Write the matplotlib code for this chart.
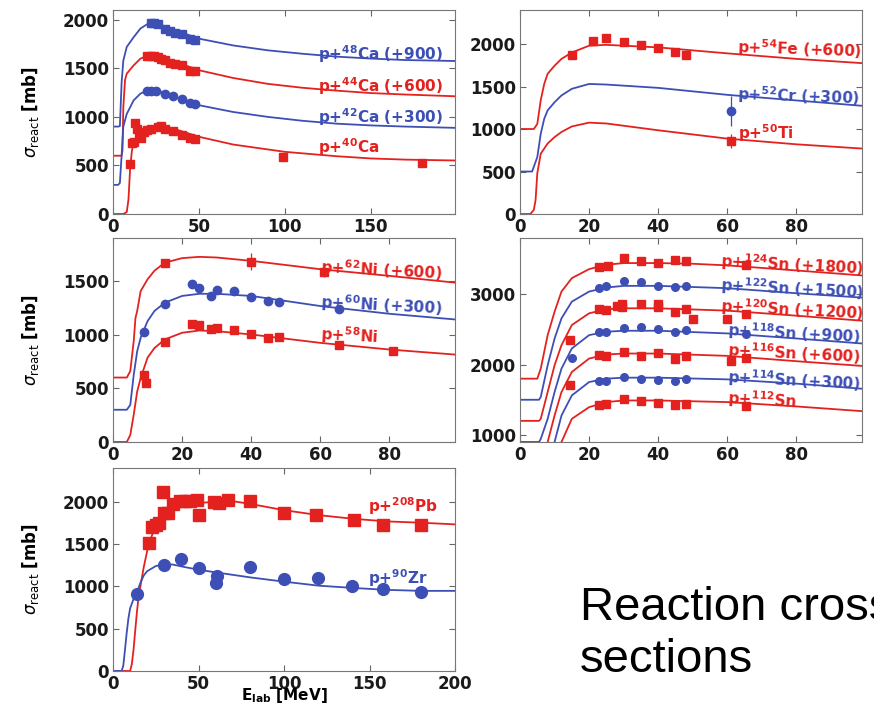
import matplotlib
matplotlib.use("Agg")
import matplotlib.pyplot as plt

RED = "#e3221f"
BLUE = "#3d4fb5"

# ---------------- Panel 1: Ca isotopes ----------------
ca48_E = [0, 3, 4, 5, 6, 8, 12, 16, 20, 25, 35, 50, 70, 90, 110, 130, 150, 170, 199]
ca48_s = [900, 900, 905, 1350, 1580, 1720, 1820, 1910, 1955, 1965, 1900, 1805, 1735, 1685, 1650, 1620, 1600, 1585, 1575]
ca44_E = [0, 5, 5.5, 6, 7, 8, 12, 16, 20, 25, 35, 50, 70, 90, 110, 130, 150, 170, 199]
ca44_s = [600, 600, 650, 1100, 1380, 1445, 1530, 1600, 1630, 1632, 1575, 1480, 1400, 1340, 1300, 1270, 1245, 1230, 1212]
ca42_E = [0, 3, 4, 5, 6, 8, 12, 16, 20, 25, 35, 50, 70, 90, 110, 130, 150, 170, 199]
ca42_s = [300, 300, 320, 600, 900, 1030, 1170, 1240, 1272, 1278, 1215, 1120, 1050, 1000, 960, 930, 912, 900, 887]
ca40_E = [0, 6, 8, 9, 10, 11, 12, 15, 20, 25, 28, 35, 50, 70, 100, 130, 150, 170, 199]
ca40_s = [0, 0, 20, 150, 480, 650, 750, 830, 875, 900, 910, 880, 795, 715, 640, 595, 572, 560, 551]

ca48_dE = [22, 24, 26, 30, 33, 36, 40, 45, 48]
ca48_ds = [1965, 1965, 1960, 1900, 1880, 1865, 1850, 1805, 1790]
ca44_dE = [20, 22, 24, 26, 28, 30, 33, 36, 40, 45, 48]
ca44_ds = [1625, 1625, 1625, 1620, 1600, 1590, 1555, 1545, 1530, 1475, 1475]
ca42_dE = [20, 22, 25, 30, 35, 40, 45, 48]
ca42_ds = [1265, 1268, 1265, 1235, 1215, 1185, 1140, 1130]
ca40_dE = [10, 11, 12.5, 13, 14, 15, 16, 18, 20, 22, 26, 28, 30, 35, 40, 45, 48, 99, 180]
ca40_ds = [510, 735, 740, 940, 870, 830, 780, 840, 860, 870, 900, 910, 880, 850, 810, 780, 770, 590, 530]

# ---------------- Panel 2: Fe, Cr, Ti ----------------
fe54_E = [0, 4, 5, 6, 7, 8, 10, 12, 15, 20, 25, 40, 60, 80, 99]
fe54_s = [1000, 1000, 1060, 1340, 1530, 1650, 1745, 1825, 1900, 1980, 1990, 1960, 1890, 1825, 1775]
cr52_E = [0, 3.5, 5, 6, 7, 8, 10, 12, 15, 20, 25, 40, 60, 80, 99]
cr52_s = [500, 500, 670, 945, 1120, 1220, 1315, 1395, 1473, 1530, 1523, 1484, 1402, 1336, 1273]
ti50_E = [0, 3, 4, 4.5, 5, 6, 8, 10, 12, 15, 20, 25, 40, 60, 80, 99]
ti50_s = [0, 0, 50, 165, 480, 710, 830, 905, 965, 1030, 1075, 1065, 985, 887, 820, 770]

fe54_dE = [15, 21, 25, 30, 35, 40, 45, 48]
fe54_ds = [1865, 2040, 2075, 2020, 1990, 1955, 1910, 1875]
cr52_dE = [61]
cr52_ds = [1210]
ti50_dE = [61]
ti50_ds = [860]

# ---------------- Panel 3: Ni isotopes ----------------
ni62_E = [0, 4, 5, 6, 6.5, 7, 8, 10, 12, 15, 20, 25, 30, 40, 60, 80, 99]
ni62_s = [600, 600, 660, 940, 1155, 1220, 1405, 1515, 1595, 1670, 1712, 1724, 1718, 1687, 1609, 1547, 1484]
ni60_E = [0, 4, 5, 6, 7, 8, 10, 12, 15, 20, 25, 30, 40, 60, 80, 99]
ni60_s = [300, 300, 345, 625, 845, 970, 1125, 1220, 1297, 1360, 1380, 1380, 1360, 1266, 1194, 1141]
ni58_E = [0, 4, 5, 6, 7, 8, 10, 12, 15, 20, 25, 30, 40, 60, 80, 99]
ni58_s = [0, 0, 65, 255, 470, 595, 785, 875, 955, 1017, 1038, 1032, 1001, 923, 861, 814]

ni62_dE = [15, 40, 61]
ni62_ds = [1670, 1680, 1587]
ni60_dE = [9, 15, 23, 25, 28.5, 30, 35, 40, 45, 48, 65.5]
ni60_ds = [1026, 1282, 1469, 1438, 1360, 1413, 1406, 1350, 1313, 1303, 1235]
ni58_dE = [9, 9.5, 15, 23, 25, 28.5, 30, 35, 40, 45, 48, 65.5, 81]
ni58_ds = [627, 549, 932, 1094, 1088, 1048, 1057, 1045, 1010, 970, 973, 907, 851]

# ---------------- Panel 4: Sn isotopes ----------------
sn124_E = [0, 5, 6, 8, 10, 12, 15, 20, 25, 30, 40, 50, 60, 80, 99]
sn124_s = [1800, 1800, 1943, 2419, 2752, 3038, 3229, 3357, 3419, 3443, 3443, 3433, 3410, 3338, 3267]
sn122_E = [0, 5.5, 6, 8, 10, 12, 15, 20, 25, 30, 40, 60, 80, 99]
sn122_s = [1500, 1500, 1540, 1990, 2370, 2657, 2895, 3038, 3095, 3119, 3119, 3086, 3014, 2952]
sn120_E = [0, 5.5, 6, 8, 10, 12, 15, 20, 25, 30, 40, 60, 80, 99]
sn120_s = [1200, 1200, 1230, 1610, 1990, 2276, 2562, 2729, 2786, 2800, 2800, 2767, 2695, 2624]
sn118_E = [0, 5.5, 6, 8, 10, 12, 15, 20, 25, 30, 40, 60, 80, 99]
sn118_s = [900, 900, 943, 1229, 1610, 1943, 2229, 2419, 2467, 2481, 2481, 2443, 2371, 2300]
sn116_E = [0, 6.5, 7, 8, 10, 12, 15, 20, 25, 30, 40, 60, 80, 99]
sn116_s = [600, 600, 640, 900, 1276, 1610, 1895, 2086, 2143, 2157, 2157, 2124, 2048, 1981]
sn114_E = [0, 8, 9, 10, 12, 15, 20, 25, 30, 40, 60, 80, 99]
sn114_s = [300, 300, 560, 900, 1276, 1562, 1752, 1800, 1814, 1814, 1790, 1729, 1657]
sn112_E = [0, 9, 10, 12, 15, 20, 25, 30, 40, 60, 80, 99]
sn112_s = [0, 0, 300, 900, 1229, 1395, 1467, 1490, 1490, 1467, 1405, 1338]

sn124_dE = [23, 25.5, 30, 35, 40, 45, 48, 65.5]
sn124_ds = [3386, 3395, 3514, 3476, 3438, 3486, 3467, 3419]
sn122_dE = [23, 25, 30, 35, 40, 45, 48]
sn122_ds = [3095, 3119, 3190, 3171, 3119, 3100, 3119]
sn120_dE = [14.5, 23, 25, 28, 29.5, 29.5, 35, 40, 40, 45, 48, 50, 60, 65.5]
sn120_ds = [2348, 2786, 2776, 2833, 2820, 2860, 2862, 2862, 2824, 2743, 2786, 2648, 2648, 2714]
sn118_dE = [15, 23, 25, 30, 35, 40, 45, 48, 65.5]
sn118_ds = [2095, 2457, 2457, 2524, 2538, 2505, 2457, 2490, 2433]
sn116_dE = [14.5, 23, 25, 30, 35, 40, 45, 48, 61, 65.5]
sn116_ds = [1714, 2133, 2119, 2181, 2124, 2171, 2086, 2119, 2052, 2100]
sn114_dE = [23, 25, 30, 35, 40, 45, 48]
sn114_ds = [1767, 1767, 1824, 1800, 1776, 1762, 1800]
sn112_dE = [23, 25, 30, 35, 40, 45, 48, 65.5]
sn112_ds = [1419, 1433, 1505, 1481, 1452, 1419, 1443, 1410]

# ---------------- Panel 5: Pb, Zr ----------------
pb208_E = [0, 10, 11, 12, 13, 14, 15, 16, 18, 20, 22, 25, 30, 35, 40, 50, 60, 70, 80, 100, 120, 140, 160, 180, 200]
pb208_s = [0, 0, 80, 250, 480, 700, 880, 1000, 1230, 1420, 1560, 1720, 1870, 1929, 1960, 1987, 1999, 2007, 1976, 1901, 1843, 1800, 1768, 1753, 1733]
zr90_E = [0, 5, 6, 7, 8, 9, 10, 12, 14, 16, 18, 20, 25, 30, 35, 40, 50, 60, 80, 100, 120, 140, 160, 180, 200]
zr90_s = [0, 0, 60, 250, 450, 620, 740, 850, 930, 1040, 1130, 1180, 1240, 1262, 1258, 1236, 1197, 1166, 1107, 1056, 1009, 982, 959, 947, 947]

pb208_dE = [21, 23, 25, 27, 29.5, 30, 32, 35, 39, 42, 45, 49, 50, 59, 62, 67, 80, 100, 119, 141, 158, 180]
pb208_ds = [1510, 1706, 1720, 1750, 2117, 1862, 1862, 1968, 2015, 2007, 2007, 2027, 1839, 1999, 1987, 2019, 2007, 1862, 1839, 1784, 1725, 1725]
zr90_dE = [14, 30, 40, 50, 61, 60, 80, 100, 120, 140, 158, 180]
zr90_ds = [908, 1252, 1322, 1221, 1127, 1037, 1225, 1088, 1096, 1002, 970, 939]

plt.rcParams['font.family'] = ['DejaVu Sans']
plt.rcParams['mathtext.fontset'] = 'dejavusans'

fig = plt.figure(figsize=(8.74, 7.04), dpi=100)
fig.patch.set_facecolor('white')

TICK_FS = 12
LAB_FS = 11


def style(ax, xlim, ylim, xticks, yticks):
    ax.set_xlim(*xlim)
    ax.set_ylim(*ylim)
    ax.set_xticks(xticks)
    ax.set_yticks(yticks)
    ax.tick_params(direction='in', top=True, right=True, length=4, width=0.8,
                   color='#666666', labelsize=TICK_FS, labelcolor='#1a1a1a', pad=3)
    for lab in ax.get_xticklabels() + ax.get_yticklabels():
        lab.set_fontweight('bold')
    for sp in ax.spines.values():
        sp.set_color('#777777')
        sp.set_linewidth(0.8)


def curve(ax, E, s, c):
    ax.plot(E, s, color=c, lw=1.3, zorder=2)


def data(ax, E, s, c, marker, ms, yerr=None):
    ax.errorbar(E, s, yerr=yerr, fmt=marker, color=c, ms=ms, mec=c, mfc=c,
                elinewidth=0.9, capsize=0, zorder=3)


def label(ax, x, y, txt, c, rot=0):
    ax.text(x, y, txt, color=c, fontsize=LAB_FS, fontweight='bold', ha='left',
            va='center', rotation=rot, rotation_mode='anchor', zorder=4)


def ylab(ax):
    ax.set_ylabel(r'$\sigma_{\mathrm{react}}$ [mb]', fontsize=12, fontweight='bold')
    ax.yaxis.set_label_coords(-0.21, 0.5)


# Panel 1
ax1 = fig.add_axes([0.1293, 0.696, 0.3913, 0.2898])
curve(ax1, ca48_E, ca48_s, BLUE)
curve(ax1, ca44_E, ca44_s, RED)
curve(ax1, ca42_E, ca42_s, BLUE)
curve(ax1, ca40_E, ca40_s, RED)
data(ax1, ca48_dE, ca48_ds, BLUE, 's', 6, 25)
data(ax1, ca44_dE, ca44_ds, RED, 's', 6, 20)
data(ax1, ca42_dE, ca42_ds, BLUE, 'o', 6, 15)
data(ax1, ca40_dE, ca40_ds, RED, 's', 6, 30)
label(ax1, 119, 1650, r'p+$^{\mathbf{48}}$Ca (+900)', BLUE)
label(ax1, 119, 1315, r'p+$^{\mathbf{44}}$Ca (+600)', RED)
label(ax1, 119, 993, r'p+$^{\mathbf{42}}$Ca (+300)', BLUE)
label(ax1, 119, 692, r'p+$^{\mathbf{40}}$Ca', RED)
style(ax1, (0, 199), (0, 2100), [0, 50, 100, 150], [0, 500, 1000, 1500, 2000])
ylab(ax1)

# Panel 2
ax2 = fig.add_axes([0.595, 0.696, 0.3913, 0.2898])
curve(ax2, fe54_E, fe54_s, RED)
curve(ax2, cr52_E, cr52_s, BLUE)
curve(ax2, ti50_E, ti50_s, RED)
data(ax2, fe54_dE, fe54_ds, RED, 's', 6)
data(ax2, cr52_dE, cr52_ds, BLUE, 'o', 6, 180)
data(ax2, ti50_dE, ti50_ds, RED, 's', 6, 80)
label(ax2, 63, 1961, r'p+$^{\mathbf{54}}$Fe (+600)', RED, -2)
label(ax2, 63, 1414, r'p+$^{\mathbf{52}}$Cr (+300)', BLUE, -2)
label(ax2, 63, 953, r'p+$^{\mathbf{50}}$Ti', RED)
style(ax2, (0, 99), (0, 2400), [0, 20, 40, 60, 80], [0, 500, 1000, 1500, 2000])

# Panel 3
ax3 = fig.add_axes([0.1293, 0.3722, 0.3913, 0.2898])
curve(ax3, ni62_E, ni62_s, RED)
curve(ax3, ni60_E, ni60_s, BLUE)
curve(ax3, ni58_E, ni58_s, RED)
data(ax3, ni62_dE, ni62_ds, RED, 's', 6, [0, 80, 50])
data(ax3, ni60_dE, ni60_ds, BLUE, 'o', 6, 20)
data(ax3, ni58_dE, ni58_ds, RED, 's', 6, 15)
label(ax3, 60, 1625, r'p+$^{\mathbf{62}}$Ni (+600)', RED, -3)
label(ax3, 60, 1306, r'p+$^{\mathbf{60}}$Ni (+300)', BLUE, -3)
label(ax3, 60, 1001, r'p+$^{\mathbf{58}}$Ni', RED, -3)
style(ax3, (0, 99), (0, 1900), [0, 20, 40, 60, 80], [0, 500, 1000, 1500])
ylab(ax3)

# Panel 4
ax4 = fig.add_axes([0.595, 0.3722, 0.3913, 0.2898])
sn_curves = [(sn124_E, sn124_s, RED), (sn122_E, sn122_s, BLUE), (sn120_E, sn120_s, RED),
             (sn118_E, sn118_s, BLUE), (sn116_E, sn116_s, RED), (sn114_E, sn114_s, BLUE),
             (sn112_E, sn112_s, RED)]
for E, s, c in sn_curves:
    curve(ax4, E, s, c)
sn_data = [(sn124_dE, sn124_ds, RED, 's'), (sn122_dE, sn122_ds, BLUE, 'o'),
           (sn120_dE, sn120_ds, RED, 's'), (sn118_dE, sn118_ds, BLUE, 'o'),
           (sn116_dE, sn116_ds, RED, 's'), (sn114_dE, sn114_ds, BLUE, 'o'),
           (sn112_dE, sn112_ds, RED, 's')]
for E, s, c, m in sn_data:
    data(ax4, E, s, c, m, 5.5, 30)
label(ax4, 58, 3467, r'p+$^{\mathbf{124}}$Sn (+1800)', RED, -3)
label(ax4, 58, 3133, r'p+$^{\mathbf{122}}$Sn (+1500)', BLUE, -3)
label(ax4, 58, 2824, r'p+$^{\mathbf{120}}$Sn (+1200)', RED, -3)
label(ax4, 60, 2490, r'p+$^{\mathbf{118}}$Sn (+900)', BLUE, -3)
label(ax4, 60, 2205, r'p+$^{\mathbf{116}}$Sn (+600)', RED, -3)
label(ax4, 60, 1824, r'p+$^{\mathbf{114}}$Sn (+300)', BLUE, -3)
label(ax4, 60, 1524, r'p+$^{\mathbf{112}}$Sn', RED, -3)
style(ax4, (0, 99), (900, 3800), [0, 20, 40, 60, 80], [1000, 2000, 3000])

# Panel 5
ax5 = fig.add_axes([0.1293, 0.0469, 0.3913, 0.2884])
curve(ax5, pb208_E, pb208_s, RED)
curve(ax5, zr90_E, zr90_s, BLUE)
data(ax5, pb208_dE, pb208_ds, RED, 's', 9, 70)
data(ax5, zr90_dE, zr90_ds, BLUE, 'o', 8.5, 40)
label(ax5, 149, 1948, r'p+$^{\mathbf{208}}$Pb', RED)
label(ax5, 149, 1095, r'p+$^{\mathbf{90}}$Zr', BLUE)
style(ax5, (0, 200), (0, 2400), [0, 50, 100, 150, 200], [0, 500, 1000, 1500, 2000])
ylab(ax5)
ax5.set_xlabel(r'$\mathbf{E_{lab}}$ [MeV]', fontsize=11, fontweight='bold')
ax5.xaxis.set_label_coords(0.5, -0.074)

# Slide text
fig.text(0.6636, 0.119, 'Reaction cross', family='Liberation Sans', fontsize=34,
         va='baseline', ha='left', color='black')
fig.text(0.6636, 0.0455, 'sections', family='Liberation Sans', fontsize=34,
         va='baseline', ha='left', color='black')

fig.savefig('out.png', dpi=100, facecolor='white')
